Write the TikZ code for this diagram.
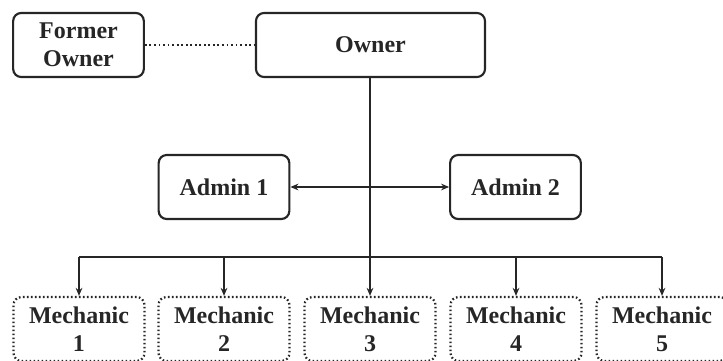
\documentclass[tikz,border=0pt]{standalone}
\usepackage{fontspec}
\setmainfont{Liberation Serif}[BoldFont={Liberation Serif Bold}]
\newfontfamily\tnrbold{Liberation Serif Bold}
\usetikzlibrary{arrows.meta}
\definecolor{ink}{HTML}{262626}
\begin{document}
\begin{tikzpicture}[x=0.75pt,y=-0.75pt,
  box/.style={draw=ink,line width=1.6pt,rounded corners=6pt,align=center,
    text=ink,font=\fontsize{18}{21}\tnrbold,inner sep=0pt},
  solidbox/.style={box,minimum width=98pt,minimum height=48pt},
  mechbox/.style={box,dash pattern=on 1.2pt off 1.8pt,line width=1.7pt,
    minimum width=98.25pt,minimum height=48pt},
  conn/.style={draw=ink,line width=1.4pt},
  tip/.style={-{Stealth[length=6pt,width=5pt]}}
]
\useasboundingbox (0,0) rectangle (723,360);
\clip (0,0) rectangle (723,360);
\node[solidbox] (former) at (78.5,45) {Former\\Owner};
\node[solidbox,minimum width=171.75pt] (owner) at (370.5,45) {Owner};
\node[solidbox] (admin1) at (224,187) {Admin 1};
\node[solidbox] (admin2) at (515.5,187) {Admin 2};
\node[mechbox] (m1) at (79,329) {Mechanic\\1};
\node[mechbox] (m2) at (224,329) {Mechanic\\2};
\node[mechbox] (m3) at (370,329) {Mechanic\\3};
\node[mechbox] (m4) at (516,329) {Mechanic\\4};
\node[mechbox] (m5) at (662,329) {Mechanic\\5};
\coordinate (j) at (370,257);
\draw[conn,dotted,line width=1.5pt] (former.east) -- (owner.west);
\draw[conn] (owner.south -| j) -- (j);
\draw[conn,{Stealth[length=6pt,width=5pt]}-{Stealth[length=6pt,width=5pt]}] (admin1.east) -- (admin2.west);
\draw[conn] (m1.north |- j) -- (m5.north |- j);
\foreach \m in {m1,m2,m3,m4,m5}
  \draw[conn,tip] (\m.north |- j) -- (\m.north);
\end{tikzpicture}
\end{document}
